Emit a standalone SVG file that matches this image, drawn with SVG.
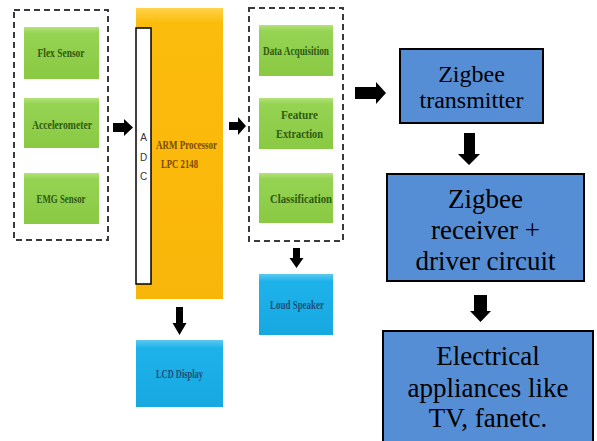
<svg xmlns="http://www.w3.org/2000/svg" width="597" height="441" viewBox="0 0 597 441">
<style>
.dash{fill:none;stroke:#3a3a3a;stroke-width:2;stroke-dasharray:6 4}
.green{fill:url(#gg)}
.cyan{fill:url(#cg)}
.zig{fill:#558ED5;stroke:#000;stroke-width:2}
.st{font-size:11.5px;font-weight:bold;text-anchor:middle}
.gt{fill:#2E5A12}
.bt{fill:#1F4E79}
.zt{text-anchor:middle;fill:#000}
.arr{fill:#000}
</style>
<defs>
<linearGradient id="gg" x1="0" y1="0" x2="0" y2="1">
<stop offset="0" stop-color="#B4E27A"/>
<stop offset="0.12" stop-color="#95D353"/>
<stop offset="1" stop-color="#8AC943"/>
</linearGradient>
<linearGradient id="cg" x1="0" y1="0" x2="0" y2="1">
<stop offset="0" stop-color="#5CC8F0"/>
<stop offset="0.12" stop-color="#1EB2EB"/>
<stop offset="1" stop-color="#17A8E0"/>
</linearGradient>
<linearGradient id="og" x1="0" y1="0" x2="0" y2="1">
<stop offset="0" stop-color="#FFD24A"/>
<stop offset="0.05" stop-color="#FCBC0C"/>
<stop offset="1" stop-color="#F9B60A"/>
</linearGradient>
</defs>

<g id="sensor-group"><rect class="dash" x="14" y="10" width="94" height="230"/></g>
<g font-family="Liberation Serif, serif">
<g id="flex-sensor"><rect class="green" x="24" y="27" width="75" height="52"/><text class="st gt" x="61" y="57" textLength="47" lengthAdjust="spacingAndGlyphs">Flex Sensor</text></g>
<g id="accelerometer"><rect class="green" x="24" y="98" width="75" height="50"/><text class="st gt" x="62" y="129" textLength="60" lengthAdjust="spacingAndGlyphs">Accelerometer</text></g>
<g id="emg-sensor"><rect class="green" x="24" y="173" width="75" height="51"/><text class="st gt" x="61" y="203" textLength="49" lengthAdjust="spacingAndGlyphs">EMG Sensor</text></g>

<g id="arm-processor">
<rect x="136" y="8" width="87" height="291" fill="url(#og)"/>
<rect x="136" y="28" width="15" height="256" fill="#fff" stroke="#000" stroke-width="1.5"/>
<text font-family="Liberation Sans, sans-serif" font-size="10" fill="#333" text-anchor="middle"><tspan x="143.5" y="141">A</tspan><tspan x="143.5" y="161">D</tspan><tspan x="143.5" y="180">C</tspan></text>
<text class="st" fill="#7A4A00" x="186.5" y="149" textLength="61" lengthAdjust="spacingAndGlyphs">ARM Processor</text>
<text class="st" fill="#7A4A00" x="179.5" y="168" textLength="37" lengthAdjust="spacingAndGlyphs">LPC 2148</text>
</g>
</g>
<g id="processing-group"><rect class="dash" x="249" y="8" width="94" height="233"/></g>
<g font-family="Liberation Serif, serif">
<g id="data-acquisition"><rect class="green" x="259" y="25" width="74" height="51"/><text class="st gt" x="296" y="55" textLength="66" lengthAdjust="spacingAndGlyphs">Data Acquisition</text></g>
<g id="feature-extraction"><rect class="green" x="259" y="98" width="74" height="51"/><text class="st gt" x="299.5" y="119" textLength="37" lengthAdjust="spacingAndGlyphs">Feature</text><text class="st gt" x="299.5" y="138" textLength="47" lengthAdjust="spacingAndGlyphs">Extraction</text></g>
<g id="classification"><rect class="green" x="259" y="173" width="74" height="50"/><text class="st gt" x="301" y="203" textLength="62" lengthAdjust="spacingAndGlyphs">Classification</text></g>

<g id="loud-speaker"><rect class="cyan" x="259" y="274" width="74" height="61"/><text class="st bt" x="297" y="309" textLength="54" lengthAdjust="spacingAndGlyphs">Loud Speaker</text></g>
<g id="lcd-display"><rect class="cyan" x="136" y="340" width="87" height="67"/><text class="st bt" x="179.5" y="378" textLength="47" lengthAdjust="spacingAndGlyphs">LCD Display</text></g>
</g>
<g font-family="Liberation Serif, serif">
<g id="zigbee-transmitter"><rect class="zig" x="400" y="49" width="143" height="74"/><text class="zt" font-size="24"><tspan x="471.5" y="82">Zigbee</tspan><tspan x="471.5" y="108">transmitter</tspan></text></g>
<g id="zigbee-receiver"><rect class="zig" x="387" y="174" width="197" height="107"/><text class="zt" font-size="27"><tspan x="485.5" y="208">Zigbee</tspan><tspan x="485.5" y="239">receiver +</tspan><tspan x="485.5" y="270">driver circuit</tspan></text></g>
<g id="electrical-appliances"><rect class="zig" x="383" y="331" width="210" height="113"/><text class="zt" font-size="27"><tspan x="488" y="365">Electrical</tspan><tspan x="488" y="397">appliances like</tspan><tspan x="488" y="427">TV, fanetc.</tspan></text></g>
</g>
<g id="connectors">
<polygon class="arr" points="113,123 124,123 124,119 133,127.5 124,136 124,132 113,132"/>
<polygon class="arr" points="229,122 238,122 238,117 246,126 238,135 238,130 229,130"/>
<polygon class="arr" points="355,87 376,87 376,82 386,93 376,104 376,99 355,99"/>
<polygon class="arr" points="176,307 183,307 183,323 186.5,323 179.5,335 172.5,323 176,323"/>
<polygon class="arr" points="293,248 300,248 300,258 303.5,258 296.5,268 289.5,258 293,258"/>
<polygon class="arr" points="464,133 475,133 475,154 480,154 469,165 458,154 464,154"/>
<polygon class="arr" points="474,295 487,295 487,311 491,311 480.5,322 470,311 474,311"/>
</g>
</svg>
